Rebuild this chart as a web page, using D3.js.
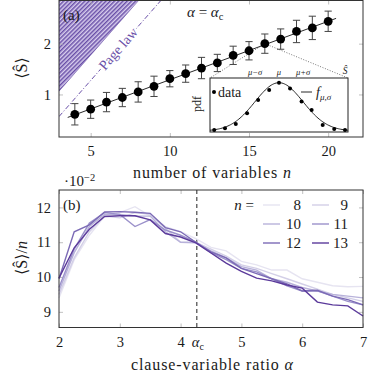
<!DOCTYPE html>
<html><head><meta charset="utf-8">
<script src="https://cdn.jsdelivr.net/npm/d3@7"></script>
<style>
body{margin:0;background:#fff}
svg{display:block}
text{font-family:"Liberation Serif","DejaVu Serif",serif;fill:#1a1a1a}
</style>
</head><body>
<svg id="c" width="373" height="376"></svg>
<script>
// ---------- Panel (a) data ----------
const nVals  = [4,5,6,7,8,9,10,11,12,13,14,15,16,17,18,19,20];
const sMean  = [0.61,0.71,0.85,0.94,1.05,1.16,1.31,1.41,1.52,1.62,1.77,1.86,2.00,2.09,2.24,2.31,2.44];
const sErr   = [0.21,0.18,0.19,0.18,0.20,0.20,0.16,0.17,0.21,0.17,0.18,0.18,0.19,0.20,0.22,0.23,0.20];
const fitSlope = 0.115, fitIntercept = 0.14, fitRange = [3.55, 20.5];
const pageSlope = 0.355, pageOffset = -0.5;     // Page law line
const boundSlope = 0.355, boundOffset = 0.0;     // hatched forbidden region
const xTicksA = [5,10,15,20];
const yTicksA = [1,2];
const zoomN = 16;
// inset (in units of sigma around mu)
const insetX   = [-2.7,-2.25,-1.8,-1.33,-0.87,-0.41,0,0.46,0.94,1.36,1.82,2.3,2.75];
const insetPdf = [0.02,0.055,0.145,0.366,0.64,0.85,1.0,0.88,0.61,0.435,0.124,0.041,0.02];
const insetTicks = [{v:-1,l:"μ−σ"},{v:0,l:"μ"},{v:1,l:"μ+σ"}];

// ---------- Panel (b) data ----------
const alphaVals = [2,2.25,2.5,2.75,3,3.25,3.5,3.75,4,4.25,4.5,4.75,5,5.25,5.5,5.75,6,6.25,6.5,6.75,7];
const seriesN = [8,9,10,11,12,13];
const s8  = [9.40,10.50,11.20,11.75,11.85,12.02,11.75,11.45,11.30,11.10,10.85,10.75,10.45,10.35,10.20,10.20,9.95,9.85,9.75,9.72,9.73];
const s9  = [9.50,10.55,11.30,11.75,11.70,11.85,11.80,11.40,11.00,11.00,10.80,10.60,10.35,10.25,10.10,9.95,9.80,9.65,9.50,9.40,9.30];
const s10 = [9.60,10.70,11.45,11.80,11.80,11.75,11.75,11.30,11.00,10.98,10.75,10.55,10.30,10.20,9.95,9.85,9.70,9.60,9.50,9.45,9.40];
const s11 = [9.70,10.80,11.55,11.85,11.80,11.45,11.65,11.35,11.20,11.00,10.70,10.50,10.25,10.15,9.95,9.75,9.60,9.60,9.45,9.30,9.20];
const s12 = [9.95,11.30,11.50,11.87,11.88,11.86,11.83,11.42,11.30,11.00,10.72,10.55,10.25,10.10,9.95,9.80,9.60,9.62,9.45,9.35,9.20];
const s13 = [9.97,10.84,11.37,11.74,11.76,11.76,11.64,11.25,11.15,10.98,10.69,10.40,10.16,9.97,9.89,9.77,9.68,9.28,9.20,9.17,8.88];
const seriesVals = [s8,s9,s10,s11,s12,s13];
const alphaC = 4.267;
const xTicksB = [2,3,4,5,6,7];
const yTicksB = [9,10,11,12];

// ---------- styles ----------
const colors = ["#e6e4f1","#d3cfe7","#b8b2da","#9b91ca","#7c6bb6","#5b3a9b"];
const hatchPurple = "#6a50a8";
const tickGray = "#b0b0b0";
const FONT = '"Liberation Serif","DejaVu Serif",serif';

const svg = d3.select("#c");

function frame(g, x0, y0, x1, y1){
  g.append("rect").attr("x",x0).attr("y",y0).attr("width",x1-x0).attr("height",y1-y0)
   .attr("fill","none").attr("stroke","#333").attr("stroke-width",1);
}
function ticksAll(g, x, y, xt, yt, box){
  const [x0,y0,x1,y1] = box;
  const ax = g.append("g").attr("transform",`translate(0,${y1})`)
    .call(d3.axisBottom(x).tickValues(xt).tickSizeInner(-4).tickSizeOuter(0).tickPadding(9).tickFormat(d3.format("d")));
  const ay = g.append("g").attr("transform",`translate(${x0},0)`)
    .call(d3.axisLeft(y).tickValues(yt).tickSizeInner(-4).tickSizeOuter(0).tickPadding(8).tickFormat(d3.format("d")));
  const at = g.append("g").attr("transform",`translate(0,${y0})`)
    .call(d3.axisTop(x).tickValues(xt).tickSizeInner(-4).tickSizeOuter(0).tickFormat(""));
  const ar = g.append("g").attr("transform",`translate(${x1},0)`)
    .call(d3.axisRight(y).tickValues(yt).tickSizeInner(-4).tickSizeOuter(0).tickFormat(""));
  [ax,ay,at,ar].forEach(a=>{
    a.attr("font-family",FONT);
    a.select(".domain").remove();
    a.selectAll(".tick line").attr("stroke",tickGray).attr("stroke-width",0.8);
    a.selectAll(".tick text").attr("font-family",FONT).attr("font-size",14.5).attr("fill","#1a1a1a");
  });
}

// ================= Panel (a) =================
const boxA = [59, 0.5, 363, 137];
const xA = d3.scaleLinear().domain([3, 22.2]).range([boxA[0], boxA[2]]);
const yA = d3.scaleLinear().domain([0.163, 2.849]).range([boxA[3], boxA[1]]);
const gA = svg.append("g");

const defs = svg.append("defs");
const pat = defs.append("pattern").attr("id","hatch").attr("patternUnits","userSpaceOnUse")
  .attr("width",3).attr("height",3).attr("patternTransform","rotate(45)");
pat.append("rect").attr("width",3).attr("height",3).attr("fill","#d9cfee");
pat.append("line").attr("x1",0.75).attr("y1",0).attr("x2",0.75).attr("y2",3).attr("stroke",hatchPurple).attr("stroke-width",1.5);
defs.append("clipPath").attr("id","clipA").append("rect")
  .attr("x",boxA[0]).attr("y",boxA[1]).attr("width",boxA[2]-boxA[0]).attr("height",boxA[3]-boxA[1]);

const clipG = gA.append("g").attr("clip-path","url(#clipA)");
const xd = xA.domain(), yd = yA.domain();
const nTop = (yd[1]-boundOffset)/boundSlope;
clipG.append("path")
  .attr("d", d3.line()([[xA(xd[0]), yA(boundSlope*xd[0]+boundOffset)], [xA(nTop), yA(yd[1])], [xA(xd[0]), yA(yd[1])]]) + "Z")
  .attr("fill","url(#hatch)").attr("stroke",hatchPurple).attr("stroke-width",0.6);
const nTopP = (yd[1]-pageOffset)/pageSlope;
clipG.append("line")
  .attr("x1",xA(xd[0])).attr("y1",yA(pageSlope*xd[0]+pageOffset))
  .attr("x2",xA(nTopP)).attr("y2",yA(yd[1]))
  .attr("stroke",hatchPurple).attr("stroke-width",1).attr("stroke-dasharray","5,2,1,2");
// Page law label, sitting on the line with a white background
const angle = Math.atan2(yA(pageSlope*8+pageOffset)-yA(pageSlope*6+pageOffset), xA(8)-xA(6))*180/Math.PI;
const nL = 6.75;
const lab = gA.append("g").attr("transform",`translate(${xA(nL)},${yA(pageSlope*nL+pageOffset)}) rotate(${angle})`);
lab.append("rect").attr("x",-27).attr("y",-8).attr("width",54).attr("height",15).attr("fill","#fff");
lab.append("text").attr("y",4.5).attr("text-anchor","middle").attr("font-size",14).style("fill",hatchPurple).text("Page law");

ticksAll(gA, xA, yA, xTicksA, yTicksA, boxA);

gA.append("line").attr("x1",xA(fitRange[0])).attr("y1",yA(fitSlope*fitRange[0]+fitIntercept))
  .attr("x2",xA(fitRange[1])).attr("y2",yA(fitSlope*fitRange[1]+fitIntercept))
  .attr("stroke","#111").attr("stroke-width",0.9);

const iBox = [210, 78, 348, 132];
const zi = nVals.indexOf(zoomN);
[[iBox[0],iBox[1]],[iBox[2],iBox[1]]].forEach(p=>{
  gA.append("line").attr("x1",xA(zoomN)).attr("y1",yA(sMean[zi])).attr("x2",p[0]).attr("y2",p[1])
    .attr("stroke","#555").attr("stroke-width",0.8).attr("stroke-dasharray","1,1.6");
});

const eb = gA.append("g").attr("stroke","#444").attr("stroke-width",1);
nVals.forEach((n,i)=>{
  const x = xA(n), y1 = yA(sMean[i]-sErr[i]), y2 = yA(sMean[i]+sErr[i]);
  eb.append("line").attr("x1",x).attr("x2",x).attr("y1",y1).attr("y2",y2);
  eb.append("line").attr("x1",x-3.6).attr("x2",x+3.6).attr("y1",y1).attr("y2",y1);
  eb.append("line").attr("x1",x-3.6).attr("x2",x+3.6).attr("y1",y2).attr("y2",y2);
});
gA.selectAll("circle.pt").data(nVals).join("circle").attr("class","pt")
  .attr("cx",n=>xA(n)).attr("cy",(n,i)=>yA(sMean[i])).attr("r",4.4).attr("fill","#000");

frame(gA, boxA[0], boxA[1], boxA[2], boxA[3]);

// inset
const xI = d3.scaleLinear().domain([-2.875, 2.875]).range([iBox[0], iBox[2]]);
const yI = d3.scaleLinear().domain([0, 1]).range([131, 82.7]);
gA.append("rect").attr("x",iBox[0]).attr("y",iBox[1]).attr("width",iBox[2]-iBox[0]).attr("height",iBox[3]-iBox[1])
  .attr("fill","#fff").attr("stroke","#222").attr("stroke-width",1);
const gx = d3.range(-2.875, 2.876, 0.05);
gA.append("path").attr("d", d3.line().x(d=>xI(d)).y(d=>yI(Math.exp(-d*d/2)))(gx))
  .attr("fill","none").attr("stroke","#111").attr("stroke-width",0.9);
gA.selectAll("circle.ip").data(insetX).join("circle").attr("class","ip")
  .attr("cx",d=>xI(d)).attr("cy",(d,i)=>yI(insetPdf[i])).attr("r",2).attr("fill","#000");
insetTicks.forEach(t=>{
  gA.append("text").attr("x",xI(t.v)).attr("y",75).attr("text-anchor","middle")
    .attr("font-size",8.5).attr("font-style","italic").text(t.l);
});
gA.append("text").attr("x",345).attr("y",74).attr("text-anchor","middle").attr("font-size",9.5).attr("font-style","italic").text("Ŝ");
gA.append("circle").attr("cx",214).attr("cy",92).attr("r",2).attr("fill","#000");
gA.append("text").attr("x",218).attr("y",96.5).attr("font-size",14).text("data");
gA.append("line").attr("x1",301).attr("x2",312).attr("y1",92).attr("y2",92).attr("stroke","#111").attr("stroke-width",0.9);
const ft = gA.append("text").attr("x",316).attr("y",96.5).attr("font-size",14);
ft.append("tspan").attr("font-style","italic").text("f");
ft.append("tspan").attr("dy",3).attr("font-size",9).attr("font-style","italic").text("μ,σ");
gA.append("text").attr("transform","translate(201,104) rotate(-90)").attr("text-anchor","middle").attr("font-size",12).text("pdf");

gA.append("text").attr("x",63).attr("y",20).attr("font-size",15).text("(a)");
const ac = gA.append("text").attr("x",187).attr("y",17).attr("font-size",15);
ac.append("tspan").attr("font-style","italic").text("α");
ac.append("tspan").text(" = ");
ac.append("tspan").attr("font-style","italic").text("α");
ac.append("tspan").attr("dy",3).attr("font-size",10.5).text("c");
const xl = gA.append("text").attr("x",212).attr("y",178).attr("text-anchor","middle").attr("font-size",16)
  .attr("textLength",158).attr("lengthAdjust","spacing");
xl.append("tspan").text("number of variables ");
xl.append("tspan").attr("font-style","italic").text("n");
gA.append("text").attr("transform","translate(27,68) rotate(-90)").attr("text-anchor","middle").attr("font-size",16).text("⟨Ŝ⟩");

// ================= Panel (b) =================
const boxB = [59, 190, 363, 327.5];
const xB = d3.scaleLinear().domain([2,7]).range([boxB[0], boxB[2]]);
const yB = d3.scaleLinear().domain([8.55, 12.5]).range([boxB[3], boxB[1]]);
const gB = svg.append("g");
ticksAll(gB, xB, yB, xTicksB, yTicksB, boxB);
gB.append("text").attr("x",xB(alphaC)+1).attr("y",boxB[3]+19.5).attr("text-anchor","middle").attr("font-size",14.5)
  .call(t=>{t.append("tspan").attr("font-style","italic").text("α"); t.append("tspan").attr("dy",3).attr("font-size",10).text("c");});

gB.append("line").attr("x1",xB(alphaC)).attr("x2",xB(alphaC)).attr("y1",boxB[1]).attr("y2",boxB[3])
  .attr("stroke","#222").attr("stroke-width",1).attr("stroke-dasharray","4,3");

const lineB = d3.line().x((d,i)=>xB(alphaVals[i])).y(d=>yB(d));
seriesVals.forEach((s,k)=>{
  gB.append("path").attr("d",lineB(s)).attr("fill","none").attr("stroke",colors[k]).attr("stroke-width",1.4);
});
frame(gB, boxB[0], boxB[1], boxB[2], boxB[3]);

const nl = gB.append("text").attr("x",254).attr("y",209.5).attr("text-anchor","end").attr("font-size",15);
nl.append("tspan").attr("font-style","italic").text("n");
nl.append("tspan").text(" =");
seriesN.forEach((n,k)=>{
  const col = k%2, row = Math.floor(k/2);
  const ly = 205 + row*19;
  const lx = col===0 ? 263 : 312;
  gB.append("line").attr("x1",lx).attr("x2",lx+17).attr("y1",ly).attr("y2",ly).attr("stroke",colors[k]).attr("stroke-width",1.4);
  gB.append("text").attr("x",col===0?301:348).attr("y",ly+5).attr("text-anchor","end").attr("font-size",15).text(n);
});

gB.append("text").attr("x",63).attr("y",210).attr("font-size",15).text("(b)");
const mult = gB.append("text").attr("x",64).attr("y",186).attr("font-size",15);
mult.append("tspan").text("·10");
mult.append("tspan").attr("dy",-5).attr("font-size",10.5).text("−2");
const xlb = gB.append("text").attr("x",212).attr("y",370).attr("text-anchor","middle").attr("font-size",16)
  .attr("textLength",162).attr("lengthAdjust","spacing");
xlb.append("tspan").text("clause-variable ratio ");
xlb.append("tspan").attr("font-style","italic").text("α");
const ylb = gB.append("text").attr("transform","translate(27,258) rotate(-90)").attr("text-anchor","middle").attr("font-size",16);
ylb.append("tspan").text("⟨Ŝ⟩/");
ylb.append("tspan").attr("font-style","italic").text("n");
</script>
</body></html>
